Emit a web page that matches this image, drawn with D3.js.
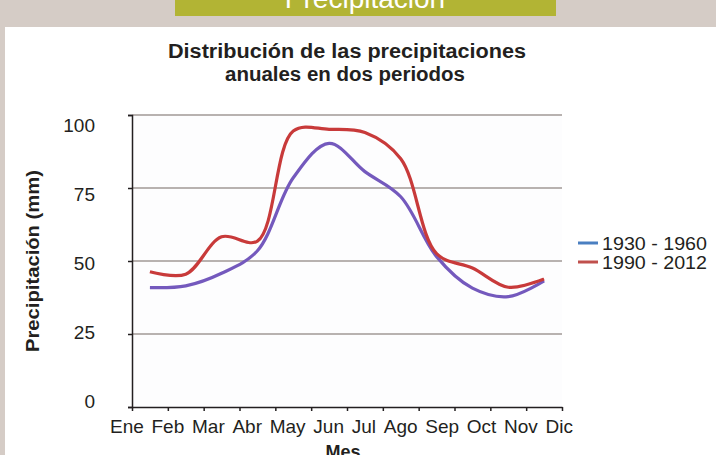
<!DOCTYPE html>
<html><head><meta charset="utf-8">
<script src="https://cdn.jsdelivr.net/npm/d3@7"></script>
<style>body{margin:0;background:#d5ccc6;}svg{display:block;}</style>
</head><body>
<script>
const months = ["Ene","Feb","Mar","Abr","May","Jun","Jul","Ago","Sep","Oct","Nov","Dic"];
const series1930 = [40.9, 41.5, 45.8, 53.5, 78.5, 90.3, 80.6, 72, 51.5, 40.7, 37.8, 43.2];
const series1990 = [46.3, 45.5, 58.3, 56.8, 94.5, 95.1, 94, 85, 52.5, 47.6, 41, 43.8];
const seriesNames = ["1930 - 1960", "1990 - 2012"];
const yTicks = [0, 25, 50, 75, 100];

const W = 716, H = 455;
const svg = d3.select("body").append("svg").attr("width", W).attr("height", H);
const font = "'Liberation Sans', Arial, Helvetica, sans-serif";

svg.append("rect").attr("width", W).attr("height", H).attr("fill", "#d5ccc6");
svg.append("rect").attr("x", 5).attr("y", 27).attr("width", W - 5).attr("height", H - 27).attr("fill", "#ffffff");
svg.append("rect").attr("x", 175).attr("y", 0).attr("width", 381).attr("height", 16).attr("fill", "#b2b434");
svg.append("text").attr("x", 365).attr("y", 8).attr("text-anchor", "middle")
  .attr("font-family", font).attr("font-size", 28).attr("fill", "#fff").text("Precipitación");

// title
const title = svg.append("text").attr("text-anchor", "middle").attr("font-family", font)
  .attr("font-weight", "bold").attr("font-size", 20).attr("fill", "#231f20");
title.append("tspan").attr("x", 347).attr("y", 58).attr("textLength", 358).attr("lengthAdjust", "spacingAndGlyphs")
  .text("Distribución de las precipitaciones");
title.append("tspan").attr("x", 345).attr("y", 81).attr("textLength", 240).attr("lengthAdjust", "spacingAndGlyphs")
  .text("anuales en dos periodos");

const x = d3.scaleBand().domain(months).range([132, 562]);
const y = d3.scaleLinear().domain([0, 100]).range([407, 115]);
const yLab = d3.scaleLinear().domain([0, 100]).range([401, 125]);

// plot background
svg.append("rect").attr("x", 132).attr("y", 115).attr("width", 430).attr("height", 292).attr("fill", "#fdfdfe");

// gridlines
svg.append("g").selectAll("line").data(yTicks.filter(d => d > 0)).join("line")
  .attr("x1", 132).attr("x2", 562).attr("y1", d => y(d)).attr("y2", d => y(d))
  .attr("stroke", "#a09896").attr("stroke-width", 1.5);

// axes
const yAxis = svg.append("g").attr("transform", "translate(132,0)")
  .call(d3.axisLeft(y).tickValues(yTicks).tickSize(4).tickFormat(""));
yAxis.selectAll("path,line").attr("stroke", "#231f20").attr("stroke-width", 1.5);
const xAxis = svg.append("g").attr("transform", "translate(0,407)")
  .call(d3.axisBottom(d3.scaleLinear().domain([0, 12]).range([132, 562])).ticks(12).tickSize(4).tickSizeOuter(0).tickFormat(""));
xAxis.selectAll("path,line").attr("stroke", "#231f20").attr("stroke-width", 1.5);

// tick labels
svg.append("g").selectAll("text").data(yTicks).join("text")
  .attr("x", 95).attr("y", d => yLab(d)).attr("dy", "0.35em").attr("text-anchor", "end")
  .attr("font-family", font).attr("font-size", 19).attr("fill", "#231f20").text(d => d);

// month labels laid out as a continuous row from x=110 to x=573
const mLabels = svg.append("g").selectAll("text").data(months).join("text")
  .attr("y", 433).attr("font-family", font).attr("font-size", 19).attr("fill", "#231f20").text(d => d);
const widths = mLabels.nodes().map(n => n.getComputedTextLength());
const total = d3.sum(widths);
const gap = (463 - total) / (months.length - 1);
let cx = 110;
mLabels.each(function(d, i) { d3.select(this).attr("x", cx); cx += widths[i] + gap; });

svg.append("text").attr("transform", "translate(39,261) rotate(-90)").attr("text-anchor", "middle")
  .attr("font-family", font).attr("font-weight", "bold").attr("font-size", 19).attr("fill", "#231f20")
  .attr("textLength", 182).attr("lengthAdjust", "spacingAndGlyphs")
  .text("Precipitación (mm)");
svg.append("text").attr("x", 343).attr("y", 458).attr("text-anchor", "middle")
  .attr("font-family", font).attr("font-weight", "bold").attr("font-size", 18).attr("fill", "#231f20")
  .text("Mes");

// lines
const line = d3.line().x((d, i) => x(months[i]) + x.bandwidth() / 2).y(d => y(d)).curve(d3.curveCatmullRom.alpha(0.5));
svg.append("path").datum(series1930).attr("d", line).attr("fill", "none")
  .attr("stroke", "#7459bd").attr("stroke-width", 3.2).attr("stroke-linejoin", "round");
svg.append("path").datum(series1990).attr("d", line).attr("fill", "none")
  .attr("stroke", "#c83a3a").attr("stroke-width", 3.2).attr("stroke-linejoin", "round");

// legend
const legColors = ["#4a7fc1", "#c0504d"];
const leg = svg.append("g").selectAll("g").data(seriesNames).join("g")
  .attr("transform", (d, i) => `translate(578,${243 + i * 19})`);
leg.append("line").attr("x1", 0).attr("x2", 20).attr("stroke", (d, i) => legColors[i]).attr("stroke-width", 3);
leg.append("text").attr("x", 24).attr("dy", "0.35em").attr("font-family", font).attr("font-size", 19)
  .attr("fill", "#231f20").attr("textLength", 105).attr("lengthAdjust", "spacingAndGlyphs").text(d => d);
</script>
</body></html>
